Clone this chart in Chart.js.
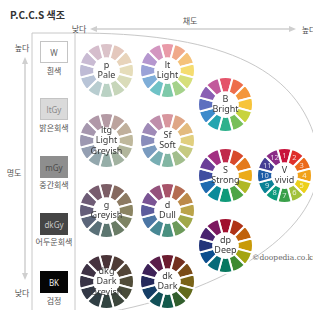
<!DOCTYPE html>
<html>
<head>
<meta charset="utf-8">
<script src="https://cdn.jsdelivr.net/npm/chart.js@4.4.1/dist/chart.umd.min.js"></script>
<style>
    body { margin: 0; background: #fff; font-family: "Noto Sans CJK KR", "Noto Sans", sans-serif; }
    #wrap { position: relative; width: 313px; height: 310px; overflow: hidden; background: #fff; }
    .t { position: absolute; white-space: nowrap; color: #555; font-size: 8px; line-height: 1; transform: translate(-50%, -50%); }
    .box { position: absolute; left: 40px; width: 28px; height: 22px; box-sizing: border-box; border: 1px solid #c4c4c4;
           font-size: 8px; display: flex; align-items: center; justify-content: center; font-family: "Noto Sans", sans-serif; }
    .wheel { position: absolute; }
    svg { position: absolute; left: 0; top: 0; }
</style>
</head>
<body>
<div id="wrap">
    <svg width="313" height="310">
        <!-- 톤 영역 곡선 + 무채색 패널 -->
        <path d="M32,310 L32,33 L75,33 C210,33 300,62 318,150 C330,225 235,288 110,312" fill="none" stroke="#c8c8c8" stroke-width="1"/>
        <line x1="75" y1="33" x2="75" y2="310" stroke="#c8c8c8" stroke-width="1"/>
        <!-- 채도 화살표 -->
        <line x1="92" y1="29" x2="292" y2="29" stroke="#cfcfcf" stroke-width="1.5"/>
        <path d="M90,29 L97,26 L97,32 Z" fill="#cfcfcf"/>
        <path d="M296,29 L289,26 L289,32 Z" fill="#cfcfcf"/>
        <!-- 명도 화살표 -->
        <line x1="25" y1="60" x2="25" y2="276" stroke="#cfcfcf" stroke-width="1.5"/>
        <path d="M25,57 L22,64 L28,64 Z" fill="#cfcfcf"/>
        <path d="M25,280 L22,273 L28,273 Z" fill="#cfcfcf"/>
    </svg>

    <div class="t" style="left:10px;top:15px;transform:translateY(-50%);font-weight:bold;font-size:10px;color:#333;">P.C.C.S 색조</div>
    <div class="t" style="left:190px;top:21px;">채도</div>
    <div class="t" style="left:79px;top:29px;">낮다</div>
    <div class="t" style="left:309px;top:30px;">높다</div>
    <div class="t" style="left:22px;top:48px;">높다</div>
    <div class="t" style="left:14px;top:173px;">명도</div>
    <div class="t" style="left:22px;top:293px;">낮다</div>

    <div class="box" style="top:41px;background:#fff;color:#666;">W</div>
    <div class="t" style="left:54px;top:71px;">흰색</div>
    <div class="box" style="top:98px;background:#dadada;color:#8a8a8a;">ltGy</div>
    <div class="t" style="left:54px;top:128px;">밝은회색</div>
    <div class="box" style="top:156px;background:#8e8e8e;color:#4a4a4a;border-color:#8e8e8e;">mGy</div>
    <div class="t" style="left:54px;top:185px;">중간회색</div>
    <div class="box" style="top:213px;background:#454545;color:#c8c8c8;border-color:#454545;">dkGy</div>
    <div class="t" style="left:54px;top:242px;">어두운회색</div>
    <div class="box" style="top:271px;background:#050505;color:#eee;border-color:#050505;">BK</div>
    <div class="t" style="left:54px;top:301px;">검정</div>

    <div class="t" style="left:252px;top:258px;transform:translateY(-50%);font-family:'DejaVu Serif','Liberation Serif',serif;font-size:7.5px;color:#666;">©doopedia.co.kr</div>
</div>

<script>
// 12색상 (시계방향, 맨 위 = 빨강)
const hueValues = [1, 1, 1, 1, 1, 1, 1, 1, 1, 1, 1, 1];
const hueNumbers = ['1', '2', '3', '4', '5', '6', '7', '8', '9', '10', '11', '12'];

const toneCodes = ['p', 'lt', 'B', 'ltg', 'Sf', 'S', 'V', 'g', 'd', 'dp', 'dkg', 'dk'];
const toneNames = [['Pale'], ['Light'], ['Bright'], ['Light', 'Greyish'], ['Soft'], ['Strong'], ['vivid'],
                   ['Greyish'], ['Dull'], ['Deep'], ['Dark', 'Greyish'], ['Dark']];

// 톤별 색상
const paleColors    = ['#dbc3c9', '#e4c8bd', '#e8d4bb', '#e6ddba', '#dadcb9', '#c7d6ba', '#bad2c4', '#b8cdd0', '#b8c4d7', '#bebbd5', '#c9bbd3', '#d5bdcc'];
const lightColors   = ['#e99aa8', '#f0a98a', '#f5c27a', '#f5dc70', '#d6df7b', '#a5d28b', '#7ec9a9', '#6fc2c6', '#7faed8', '#9aa2d7', '#b597cf', '#d396c0'];
const brightColors  = ['#e4546a', '#ee6e4b', '#f4963a', '#f7c43a', '#c8d33e', '#77bf5a', '#2fb18c', '#24a5b0', '#3d8bcb', '#5d70bf', '#8a5fb4', '#c25a9c'];
const ltgColors     = ['#b49aa4', '#bca49e', '#c0b09c', '#bfb89c', '#b2b69c', '#a2b2a0', '#96aea8', '#93a7ad', '#949fb2', '#9c98b1', '#a697ae', '#b098a8'];
const softColors    = ['#d8969e', '#dfa686', '#e3bb7e', '#e1cf7f', '#c6ca81', '#a2be8d', '#82b6a3', '#78aeb3', '#7a9bbf', '#898dbb', '#9f8ab7', '#bf8eab'];
const strongColors  = ['#c02a4a', '#d84a2c', '#e47a1c', '#ebab1a', '#b0b826', '#4ea545', '#109a7a', '#0a8a9a', '#1f6ab0', '#3f4ea0', '#6c3f98', '#a23083'];
const vividColors   = ['#c8143c', '#df302c', '#eb6a1c', '#f1a21a', '#ecd01c', '#a2c13a', '#3aa04a', '#0c9a7c', '#0a8296', '#1c5ca6', '#453d94', '#8a2a86'];
const greyishColors = ['#7c5e66', '#866a60', '#8c7a62', '#8b8462', '#7e8464', '#6a7c66', '#5c7670', '#5a7078', '#5c667a', '#645e7a', '#6e5c76', '#785c6e'];
const dullColors    = ['#a8546a', '#b46c52', '#bc8a4a', '#bba44a', '#a0a84a', '#6c9a5a', '#4a9080', '#488894', '#4c76a4', '#5c5c9c', '#7a5494', '#94527c'];
const deepColors    = ['#a0102e', '#b03418', '#c0620c', '#c89a08', '#a4a410', '#3e8a30', '#087860', '#066a78', '#0c4e8e', '#22357a', '#4a2470', '#7c1860'];
const dkgColors     = ['#4a3438', '#4f3c36', '#534638', '#514c38', '#494c3a', '#3c463c', '#324440', '#303e44', '#323846', '#383446', '#3e3244', '#46323e'];
const darkColors    = ['#6c1c30', '#743020', '#7a4c18', '#7a6418', '#626a1c', '#325e2c', '#145a4c', '#125058', '#163e66', '#262a5c', '#3e2258', '#5a1e4a'];

const toneColors = [paleColors, lightColors, brightColors, ltgColors, softColors, strongColors, vividColors,
                    greyishColors, dullColors, deepColors, dkgColors, darkColors];

// 원 중심 위치 (화면 좌표)
const wheelPos = [[106, 70], [167, 70], [225, 104], [106, 140], [167, 140], [225, 175], [284, 175],
                  [106, 210], [167, 210], [225, 245], [106, 281], [167, 281]];
const wheelSize = 57;

const centerLabel = {
    id: 'centerLabel',
    afterDatasetsDraw(chart, args, opts) {
        const ctx = chart.ctx;
        const meta = chart.getDatasetMeta(0);
        const x = meta.data[0].x;
        const y = meta.data[0].y;
        ctx.save();
        ctx.textAlign = 'center';
        ctx.textBaseline = 'middle';
        if (opts.numbers) {
            ctx.font = '7.5px "Noto Sans", sans-serif';
            ctx.fillStyle = 'rgba(255,255,255,0.8)';
            meta.data.forEach((arc, i) => {
                const p = arc.tooltipPosition();
                ctx.fillText(opts.numbers[i], p.x, p.y);
            });
        }
        ctx.font = '9px "Noto Sans", sans-serif';
        ctx.fillStyle = '#3a3a3a';
        const lines = opts.lines;
        const lh = 10.5;
        lines.forEach((l, i) => {
            ctx.fillText(l, x, y + (i - (lines.length - 1) / 2) * lh);
        });
        ctx.restore();
    }
};

const wrap = document.getElementById('wrap');
toneCodes.forEach((code, i) => {
    const div = document.createElement('div');
    div.className = 'wheel';
    div.style.left = (wheelPos[i][0] - wheelSize / 2) + 'px';
    div.style.top = (wheelPos[i][1] - wheelSize / 2) + 'px';
    const canvas = document.createElement('canvas');
    canvas.width = wheelSize;
    canvas.height = wheelSize;
    div.appendChild(canvas);
    wrap.appendChild(div);

    new Chart(canvas.getContext('2d'), {
        type: 'doughnut',
        data: {
            labels: hueNumbers,
            datasets: [{
                data: hueValues,
                backgroundColor: toneColors[i],
                borderColor: '#fff',
                borderWidth: 2
            }]
        },
        options: {
            responsive: false,
            animation: false,
            cutout: '45%',
            rotation: -15,
            layout: { padding: 0 },
            plugins: {
                legend: { display: false },
                tooltip: { enabled: false },
                centerLabel: {
                    lines: [code].concat(toneNames[i]),
                    numbers: code === 'V' ? hueNumbers : null
                }
            }
        },
        plugins: [centerLabel]
    });
});
</script>
</body>
</html>
